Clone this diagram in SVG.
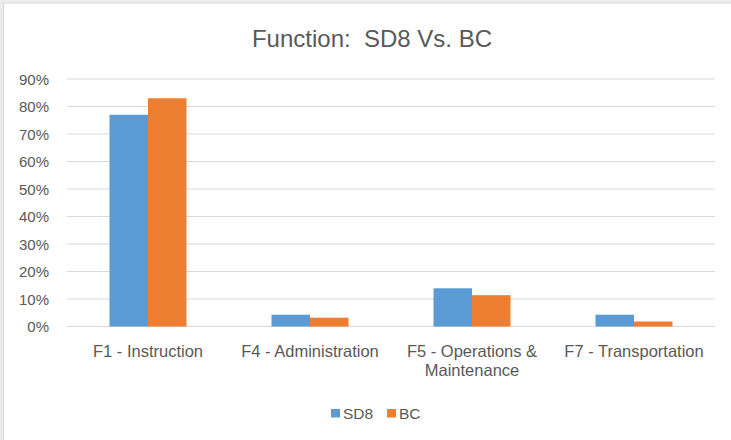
<svg xmlns="http://www.w3.org/2000/svg" width="731" height="440" viewBox="0 0 731 440">
<style>
.grid{stroke:#d9d9d9;stroke-width:1.2}
.ax{font-family:"Liberation Sans",Arial,sans-serif;font-size:15px;fill:#595959;text-anchor:end}
.cat{font-family:"Liberation Sans",Arial,sans-serif;font-size:16.5px;fill:#595959;text-anchor:middle}
.title{font-family:"Liberation Sans",Arial,sans-serif;font-size:24px;fill:#595959;text-anchor:middle;white-space:pre}
.leg{font-family:"Liberation Sans",Arial,sans-serif;font-size:15.5px;fill:#595959}
.sd8{fill:#5b9bd5}
.bc{fill:#ed7d31}
</style>
<rect x="0" y="0" width="731" height="440" fill="#ffffff"/>
<rect x="0" y="0" width="3" height="440" fill="#ebebeb"/>
<rect x="0" y="0" width="731" height="2.5" fill="#ebebeb"/>
<line x1="3.5" y1="3" x2="3.5" y2="440" stroke="#d6d6d6" stroke-width="1"/>
<line x1="3" y1="3" x2="731" y2="3" stroke="#d6d6d6" stroke-width="1"/>
<text id="title" class="title" x="372" y="46.5" xml:space="preserve">Function:  SD8 Vs. BC</text>
<g id="gridlines">
<line class="grid" x1="67" y1="79" x2="715" y2="79"/>
<line class="grid" x1="67" y1="106.5" x2="715" y2="106.5"/>
<line class="grid" x1="67" y1="134" x2="715" y2="134"/>
<line class="grid" x1="67" y1="161.5" x2="715" y2="161.5"/>
<line class="grid" x1="67" y1="189" x2="715" y2="189"/>
<line class="grid" x1="67" y1="216.5" x2="715" y2="216.5"/>
<line class="grid" x1="67" y1="244" x2="715" y2="244"/>
<line class="grid" x1="67" y1="271.5" x2="715" y2="271.5"/>
<line class="grid" x1="67" y1="299" x2="715" y2="299"/>
<line class="grid" x1="67" y1="326.5" x2="715" y2="326.5"/>
</g>
<g id="y-axis">
<text class="ax" x="49" y="84.5">90%</text>
<text class="ax" x="49" y="112">80%</text>
<text class="ax" x="49" y="139.5">70%</text>
<text class="ax" x="49" y="167">60%</text>
<text class="ax" x="49" y="194.5">50%</text>
<text class="ax" x="49" y="222">40%</text>
<text class="ax" x="49" y="249.5">30%</text>
<text class="ax" x="49" y="277">20%</text>
<text class="ax" x="49" y="304.5">10%</text>
<text class="ax" x="49" y="332">0%</text>
</g>
<g id="F1">
<rect class="sd8" x="109.5" y="114.75" width="38.5" height="211.75"/>
<rect class="bc" x="148" y="98.25" width="38.5" height="228.25"/>
<text class="cat" x="148" y="356.5">F1 - Instruction</text>
</g>
<g id="F4">
<rect class="sd8" x="271.5" y="314.7" width="38.5" height="11.8"/>
<rect class="bc" x="310" y="317.7" width="38.5" height="8.8"/>
<text class="cat" x="310" y="356.5">F4 - Administration</text>
</g>
<g id="F5">
<rect class="sd8" x="433.5" y="288.3" width="38.5" height="38.2"/>
<rect class="bc" x="472" y="295.2" width="38.5" height="31.3"/>
<text class="cat" x="472" y="356.5">F5 - Operations &amp;</text>
<text class="cat" x="472" y="375.5">Maintenance</text>
</g>
<g id="F7">
<rect class="sd8" x="595.5" y="314.7" width="38.5" height="11.8"/>
<rect class="bc" x="634" y="321.5" width="38.5" height="5"/>
<text class="cat" x="634" y="356.5">F7 - Transportation</text>
</g>
<g id="legend">
<rect class="sd8" x="331" y="409" width="9" height="8.5"/>
<text class="leg" x="343" y="419">SD8</text>
<rect class="bc" x="387" y="409" width="9" height="8.5"/>
<text class="leg" x="399" y="419">BC</text>
</g>
</svg>
